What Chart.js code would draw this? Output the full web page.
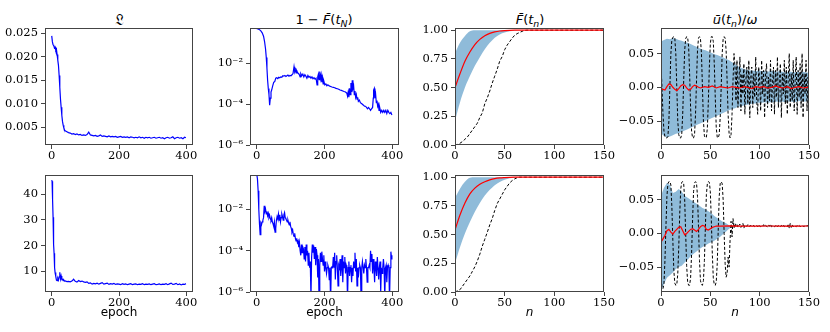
<!DOCTYPE html>
<html>
<head>
<meta charset="utf-8">
<script src="https://cdn.jsdelivr.net/npm/chart.js@4.4.1/dist/chart.umd.min.js"></script>
<style>
  body { margin: 0; background: #fff; width: 830px; height: 332px; position: relative; overflow: hidden; }
  .p { position: absolute; }
  .t { position: absolute; width: 160px; text-align: center; white-space: nowrap;
       font-family: "DejaVu Sans", sans-serif; font-size: 13px; line-height: 16px; color: #000; }
  .t sub { font-size: 72%; vertical-align: -0.3em; line-height: 0; }
</style>
</head>
<body>
<div class="t" style="left:39px;top:12px;font-size:15px">𝔏</div>
<div class="t" style="left:244px;top:12px">1 − <i>F̄</i>(<i>t<sub>N</sub></i>)</div>
<div class="t" style="left:450px;top:12px"><i>F̄</i>(<i>t<sub>n</sub></i>)</div>
<div class="t" style="left:655px;top:12px"><i>ū</i>(<i>t<sub>n</sub></i>)/<i>ω</i></div>

<script>
// ---- tick values and labels ----
const epochTicks = [0, 200, 400];
const epochLabels = ['0', '200', '400'];
const stepTicks = [0, 50, 100, 150];
const stepLabels = ['0', '50', '100', '150'];
const lossTopTicks = [0.005, 0.010, 0.015, 0.020, 0.025];
const lossTopLabels = ['0.005', '0.010', '0.015', '0.020', '0.025'];
const lossBotTicks = [10, 20, 30, 40];
const lossBotLabels = ['10', '20', '30', '40'];
const infTicks = [1e-6, 1e-4, 1e-2];
const infLabels = ['10⁻⁶', '10⁻⁴', '10⁻²'];
const fidTicks = [0, 0.25, 0.5, 0.75, 1.0];
const fidLabels = ['0.00', '0.25', '0.50', '0.75', '1.00'];
const ctrlTicks = [-0.05, 0, 0.05];
const ctrlLabels = ['−0.05', '0.00', '0.05'];

// ---- loss, top row [epoch, value] ----
const lossTop = [
  [0,0.0245],[2,0.0232],[4,0.0226],[6,0.0224],[8,0.0219],[10,0.0221],[12,0.0214],[14,0.0216],[16,0.0205],[18,0.0193],
  [20,0.0182],[22,0.0160],[24,0.0135],[26,0.0110],[28,0.0092],[30,0.0075],[32,0.0062],[34,0.0054],[36,0.0048],[38,0.0044],
  [40,0.0042],[45,0.0040],[50,0.0038],[55,0.0037],[60,0.0035],[65,0.0036],[70,0.0034],[75,0.0035],[80,0.0033],[85,0.0034],
  [90,0.0032],[95,0.0033],[100,0.0032],[105,0.0034],[110,0.0039],[115,0.0033],[120,0.0032],[125,0.0031],[130,0.0032],[135,0.0030],
  [140,0.0031],[145,0.0033],[150,0.0030],[155,0.0031],[160,0.0030],[165,0.0029],[170,0.0031],[175,0.0029],[180,0.0030],[185,0.0029],
  [190,0.0030],[195,0.0028],[200,0.0029],[205,0.0030],[210,0.0028],[215,0.0029],[220,0.0028],[225,0.0029],[230,0.0027],[235,0.0029],
  [240,0.0028],[245,0.0027],[250,0.0028],[255,0.0027],[260,0.0029],[265,0.0027],[270,0.0028],[275,0.0026],[280,0.0028],[285,0.0027],
  [290,0.0028],[295,0.0026],[300,0.0027],[305,0.0028],[310,0.0026],[315,0.0027],[320,0.0028],[325,0.0026],[330,0.0027],[335,0.0025],
  [340,0.0027],[345,0.0028],[350,0.0026],[355,0.0027],[360,0.0029],[365,0.0025],[370,0.0027],[375,0.0028],[380,0.0026],[385,0.0027],
  [390,0.0025],[395,0.0028],[399,0.0027]
];

// ---- loss, bottom row ----
const lossBot = [
  [0,45.5],[1,45.0],[2,43.5],[3,38.0],[4,31.0],[5,24.5],[6,20.5],[7,17.0],[8,14.0],[9,11.5],[10,9.5],
  [12,8.0],[14,6.6],[16,6.4],[18,7.3],[20,6.6],[22,7.8],[24,9.6],[26,7.0],[28,8.2],[30,6.8],[32,6.9],[34,6.4],[36,6.6],[38,6.2],[40,6.3],
  [45,6.0],[50,6.1],[55,5.9],[60,6.2],[65,6.9],[70,6.1],[75,5.8],[80,6.4],[85,6.0],[90,6.2],
  [95,5.9],[100,5.7],[105,5.9],[110,5.3],[115,5.5],[120,5.0],[125,5.3],[130,5.1],[135,5.4],[140,5.0],
  [145,5.3],[150,5.6],[155,5.0],[160,5.2],[165,5.4],[170,4.9],[175,5.2],[180,5.0],[185,5.3],[190,4.9],
  [195,5.1],[200,5.0],[205,4.8],[210,5.2],[215,4.9],[220,5.1],[225,4.8],[230,5.0],[235,5.2],[240,4.8],
  [245,5.0],[250,5.1],[255,4.8],[260,5.0],[265,4.9],[270,5.2],[275,4.8],[280,5.0],[285,4.9],[290,5.1],
  [295,4.8],[300,5.0],[305,5.2],[310,4.8],[315,4.9],[320,5.1],[325,4.8],[330,5.0],[335,4.9],[340,5.2],
  [345,4.8],[350,5.1],[355,5.4],[360,4.9],[365,5.0],[370,5.3],[375,4.8],[380,5.1],[385,4.7],[390,5.0],
  [395,4.9],[399,5.2]
];

// ---- infidelity 1 - F(t_N), top row ----
const infTop = [
  [0,0.52],[4,0.50],[8,0.46],[12,0.40],[16,0.32],[20,0.22],[23,0.12],[26,0.05],[28,0.02],[30,0.006],
  [32,0.0015],[34,0.0006],[36,0.0003],[38,0.00009],[40,0.0002],[42,0.0004],[44,0.0005],[47,0.0008],[50,0.0012],[53,0.0013],
  [56,0.0019],[59,0.0020],[62,0.0018],[65,0.0021],[68,0.0020],[71,0.0022],[74,0.0021],[77,0.0025],[80,0.0024],[83,0.0026],
  [86,0.0023],[89,0.0025],[92,0.0027],[95,0.0024],[98,0.0026],[101,0.0025],[104,0.0028],[107,0.0032],[110,0.0070],[112,0.0040],
  [114,0.0050],[116,0.0035],[118,0.0045],[120,0.0038],[122,0.0033],[125,0.0030],[128,0.0022],[130,0.0032],[133,0.0025],[136,0.0030],
  [139,0.0022],[142,0.0028],[145,0.0024],[148,0.0019],[151,0.0026],[154,0.0021],[157,0.0023],[160,0.0019],[163,0.0022],[166,0.0018],
  [169,0.0020],[172,0.0017],[175,0.0019],[178,0.0009],[180,0.0022],[182,0.0030],[184,0.0016],[186,0.0040],[188,0.0018],[190,0.0028],
  [192,0.0012],[194,0.0020],[196,0.0010],[198,0.0014],[201,0.0009],[204,0.0010],[207,0.0008],[210,0.0009],[214,0.0008],[218,0.00075],
  [222,0.0007],[226,0.00068],[230,0.00065],[234,0.0006],[238,0.00058],[242,0.00055],[246,0.0005],[250,0.00048],[254,0.00045],[258,0.00042],
  [262,0.0004],[266,0.00035],[268,0.00025],[270,0.0004],[272,0.00022],[274,0.0006],[276,0.0003],[278,0.0011],[280,0.0004],[282,0.0015],
  [284,0.0006],[286,0.0008],[288,0.0003],[290,0.00045],[292,0.00022],[294,0.0003],[296,0.00018],[298,0.00022],[300,0.00014],[303,0.00016],
  [306,0.00012],[309,0.00011],[312,0.0001],[315,0.00009],[318,0.00008],[321,0.00008],[324,0.00007],[327,0.00006],[330,0.00007],[333,0.00006],
  [336,0.00005],[339,0.00006],[342,0.00007],[344,0.0002],[345,0.0005],[347,0.0006],[349,0.0002],[351,0.0003],[353,0.00012],[355,0.00015],
  [357,0.00008],[359,0.0001],[361,0.00005],[363,0.00007],[366,0.00004],[369,0.00005],[372,0.00004],[375,0.00005],[378,0.00004],[381,0.00005],
  [384,0.000035],[387,0.00005],[390,0.00004],[393,0.000035],[396,0.00004],[399,0.00003]
];

// ---- infidelity, bottom row ----
const infBot = [
  [0,0.5],[2,0.3],[4,0.08],[6,0.01],[8,0.002],[10,0.0006],[12,0.0022],[14,0.0018],[16,0.0025],[18,0.003],
  [20,0.004],[22,0.015],[24,0.008],[26,0.010],[28,0.006],[30,0.008],[32,0.005],[34,0.0065],[36,0.004],[38,0.005],
  [40,0.0035],[42,0.003],[44,0.004],[46,0.0025],[48,0.002],[50,0.0015],[52,0.0025],[54,0.0008],[56,0.0012],[58,0.003],
  [60,0.0045],[62,0.0035],[64,0.006],[66,0.003],[68,0.0055],[70,0.0025],[72,0.004],[74,0.006],[76,0.0045],[78,0.003],
  [80,0.0055],[82,0.007],[84,0.004],[86,0.0035],[88,0.003],[90,0.0025],[92,0.003],[94,0.0022],[96,0.0018],[98,0.0025],
  [100,0.0015],[102,0.0012],[104,0.0008],[106,0.001],[108,0.0006],[110,0.0005],[112,0.0007],[114,0.0004],[116,0.0003],[118,0.0004],
  [120,0.00025],[122,0.0003],[124,0.00015],[126,0.00025],[128,0.0001],[130,0.00006],[132,0.0002],[134,0.00008],[136,0.00015],[138,0.00012],
  [140,0.00004],[142,0.00015],[144,0.00003],[146,0.0002],[148,0.00006],[150,0.0001],[152,0.00002],[154,0.00008],[156,0.000015],[158,0.00003],
  [160,0.0000005],[162,0.00005],[164,0.0002],[166,0.00008],[168,0.00018],[170,0.00004],[172,0.00015],[174,0.00002],[176,0.00012],[178,0.00006],
  [180,0.000005],[182,0.00004],[184,0.0000003],[186,0.00002],[188,0.00008],[190,0.00003],[192,0.00009],[194,0.00004],[196,0.00002],[198,0.00006],
  [200,0.00001],[202,0.00003],[204,0.000015],[206,0.000008],[208,0.000015],[210,0.00002],[212,0.000015],[214,0.000004],[216,0.000015],[218,0.0000003],
  [220,0.000015],[222,0.000016],[224,0.000015],[226,0.00005],[228,0.000015],[230,0.00008],[232,0.000004],[234,0.00003],[236,0.00006],[238,0.000015],
  [240,0.000002],[242,0.00002],[244,0.000015],[246,0.00004],[248,0.000006],[250,0.000015],[252,0.00006],[254,0.000003],[256,0.00003],[258,0.000015],
  [260,0.00005],[262,0.000008],[264,0.00002],[266,0.000015],[268,0.0000004],[270,0.000015],[272,0.00003],[274,0.000006],[276,0.000015],[278,0.00002],
  [280,0.000003],[282,0.000015],[284,0.000006],[286,0.00003],[288,0.000015],[290,0.00008],[292,0.00001],[294,0.00004],[296,0.000002],[298,0.000015],
  [300,0.000005],[302,0.000015],[304,0.00002],[306,0.000015],[308,0.0000004],[310,0.000015],[312,0.00003],[314,0.000015],[316,0.000008],[318,0.00002],
  [320,0.000015],[322,0.00004],[324,0.000015],[326,0.000003],[328,0.000015],[330,0.000015],[332,0.00002],[334,0.000015],[336,0.0001],[338,0.00003],
  [340,0.00007],[342,0.000008],[344,0.00004],[346,0.000015],[348,0.000003],[350,0.00003],[352,0.000015],[354,0.000006],[356,0.00005],[358,0.000015],
  [360,0.000004],[362,0.000015],[364,0.00003],[366,0.000001],[368,0.000015],[370,0.000008],[372,0.000015],[374,0.00004],[376,0.000015],[378,0.0000005],
  [380,0.000015],[382,0.00002],[384,0.000003],[386,0.000015],[388,0.00002],[390,0.000015],[392,0.0000004],[394,0.000015],[396,0.00009],[398,0.00004],
  [399,0.00006]
];

// ---- fidelity F(t_n): mean, band, reference ----
const fidN = [0,5,10,15,20,25,30,35,40,45,50,55,60,65,70,80,90,100,110,120,130,140,150];
const fidTopMean = [0.50,0.62,0.73,0.81,0.875,0.92,0.952,0.972,0.985,0.993,0.997,0.999,1,1,1,1,1,1,1,1,1,1,1];
const fidTopLow  = [0.21,0.37,0.50,0.60,0.69,0.765,0.835,0.89,0.935,0.963,0.98,0.99,0.996,0.999,1,1,1,1,1,1,1,1,1];
const fidTopHigh = [0.80,0.89,0.95,0.99,1,1,1,1,1,1,1,1,1,1,1,1,1,1,1,1,1,1,1];
const fidBotMean = [0.54,0.67,0.775,0.855,0.905,0.938,0.961,0.977,0.988,0.994,0.997,0.999,1,1,1,1,1,1,1,1,1,1,1];
const fidBotLow  = [0.25,0.39,0.51,0.61,0.70,0.775,0.84,0.89,0.93,0.958,0.977,0.99,0.996,0.999,1,1,1,1,1,1,1,1,1];
const fidBotHigh = [0.82,0.90,0.96,0.995,1,1,1,1,1,1,1,1,1,1,1,1,1,1,1,1,1,1,1];
const fidRefN = [0,2.5,5,7.5,10,12.5,15,17.5,20,22.5,25,27.5,30,32.5,35,37.5,40,42.5,45,47.5,50,52.5,55,57.5,60,62.5,65,67.5,70,72.5,75,150];
const fidTopRef = [0,0.005,0.015,0.03,0.05,0.07,0.10,0.13,0.16,0.19,0.24,0.28,0.36,0.41,0.47,0.54,0.60,0.66,0.73,0.77,0.83,0.87,0.90,0.93,0.955,0.97,0.98,0.99,0.998,1,1,1];
const fidBotRef = [0,0.01,0.02,0.05,0.08,0.11,0.14,0.18,0.22,0.27,0.33,0.40,0.46,0.52,0.585,0.64,0.71,0.77,0.81,0.85,0.89,0.92,0.95,0.97,0.985,0.995,1,1,1,1,1,1];

// ---- control u(t_n)/omega ----
const stepN = Array.from({ length: 151 }, (_, i) => i);
const bandN = Array.from({ length: 51 }, (_, i) => 3 * i);
const ctrlTopHigh = [
  0.068,0.070,0.072,0.071,0.073,0.072,0.070,0.069,0.067,0.066,
  0.064,0.062,0.060,0.058,0.056,0.055,0.053,0.051,0.049,0.048,
  0.046,0.044,0.042,0.040,0.037,0.034,0.031,0.029,0.027,0.026,
  0.025,0.025,0.024,0.025,0.024,0.024,0.023,0.024,0.024,0.023,
  0.024,0.023,0.022,0.023,0.023,0.022,0.023,0.022,0.023,0.022,
  0.022
];
const ctrlTopLow = [
  -0.068,-0.072,-0.074,-0.073,-0.071,-0.069,-0.068,-0.066,-0.064,-0.062,
  -0.060,-0.058,-0.056,-0.054,-0.052,-0.050,-0.048,-0.046,-0.044,-0.042,
  -0.040,-0.038,-0.036,-0.034,-0.032,-0.031,-0.029,-0.028,-0.027,-0.026,
  -0.025,-0.024,-0.024,-0.023,-0.023,-0.022,-0.023,-0.022,-0.022,-0.021,
  -0.022,-0.021,-0.022,-0.021,-0.021,-0.022,-0.021,-0.020,-0.021,-0.021,
  -0.020
];
const ctrlTopMeanN = [0,2,4,6,8,10,12,14,16,18,20,22,24,26,28,30,32,34,36,38,40,
  44,48,52,56,60,64,68,72,76,80,84,88,92,96,100,104,108,112,116,120,124,128,132,136,140,144,148,150];
const ctrlTopMean = [-0.002,-0.003,-0.004,0.001,0.005,0.004,0.000,-0.003,-0.005,-0.002,0.002,0.004,0.003,-0.001,-0.004,-0.003,0.001,0.003,0.002,0.000,-0.001,
  0.001,0.000,0.002,-0.001,0.001,0.000,-0.001,0.001,0.000,-0.001,0.001,0.000,-0.002,0.001,0.000,0.001,-0.001,0.000,0.002,0.000,-0.001,0.001,-0.002,0.000,0.001,-0.001,0.000,0.001];
const ctrlTopRef = [
  0.035,0.000,-0.040,-0.065,-0.073,-0.075,-0.075,-0.073,-0.050,0.000,
  0.050,0.070,0.074,0.075,0.073,0.050,0.000,-0.050,-0.070,-0.075,
  -0.075,-0.070,-0.040,0.010,0.055,0.072,0.075,0.074,0.060,0.020,
  -0.030,-0.065,-0.075,-0.075,-0.070,-0.040,0.010,0.055,0.073,0.075,
  0.072,0.050,0.000,-0.050,-0.072,-0.075,-0.074,-0.060,-0.020,0.030,
  0.065,0.075,0.075,0.068,0.035,-0.015,-0.060,-0.074,-0.075,-0.070,
  -0.045,0.000,0.050,0.072,0.075,0.073,0.055,0.010,-0.040,-0.068,
  -0.075,-0.070,-0.040,0.010,0.050,0.030,-0.020,0.040,-0.030,0.010,
  0.045,-0.035,0.020,-0.010,0.035,-0.040,0.010,0.030,-0.025,0.040,
  -0.045,0.015,0.030,-0.030,0.020,-0.015,0.045,-0.020,-0.040,0.030,
  0.010,-0.035,0.040,-0.010,0.025,-0.045,0.020,0.035,-0.030,0.015,
  -0.020,0.040,-0.035,0.005,0.030,-0.040,0.025,-0.015,0.045,-0.030,
  0.010,0.035,-0.045,0.020,-0.010,0.040,-0.025,0.030,-0.040,0.015,
  0.050,-0.030,0.020,-0.020,0.040,-0.035,0.010,0.045,-0.040,0.025,
  -0.015,0.035,-0.030,0.050,-0.045,0.020,-0.010,0.040,-0.035,0.015,
  -0.030
];
const ctrlBotHigh = [
  0.056,0.068,0.075,0.072,0.060,0.062,0.066,0.062,0.056,0.053,
  0.050,0.047,0.044,0.041,0.038,0.036,0.033,0.030,0.026,0.023,
  0.020,0.017,0.015,0.012,0.0112,0.0115,0.0113,0.0114,0.0112,0.0114,
  0.0113,0.0114,0.0112,0.0115,0.0113,0.0114,0.0112,0.0113,0.0114,0.0112,
  0.0114,0.0113,0.0115,0.0112,0.0114,0.0113,0.0114,0.0112,0.0113,0.0114,
  0.0113
];
const ctrlBotLow = [
  -0.086,-0.075,-0.066,-0.062,-0.058,-0.053,-0.050,-0.048,-0.043,-0.039,
  -0.034,-0.030,-0.027,-0.023,-0.020,-0.018,-0.015,-0.013,-0.011,-0.008,
  -0.005,-0.001,0.003,0.007,0.0095,0.0102,0.0104,0.0103,0.0105,0.0103,
  0.0104,0.0103,0.0105,0.0104,0.0103,0.0105,0.0104,0.0103,0.0104,0.0105,
  0.0103,0.0104,0.0105,0.0103,0.0104,0.0105,0.0103,0.0104,0.0105,0.0104,
  0.0103
];
const ctrlBotMeanN = [0,2,4,6,8,10,12,14,16,18,20,22,24,26,28,30,32,34,36,38,40,42,44,46,48,50,52,54,56,
  60,70,80,90,100,110,120,130,140,150];
const ctrlBotMean = [-0.013,-0.008,-0.003,0.004,0.006,0.002,-0.001,0.003,0.006,0.009,0.010,0.004,-0.002,0.000,0.003,0.006,0.007,0.005,0.003,0.006,0.010,0.012,0.011,0.006,0.005,0.007,0.009,0.010,0.011,
  0.011,0.0112,0.011,0.0108,0.011,0.0111,0.011,0.0109,0.011,0.0111];
const ctrlBotRef = [
  -0.060,-0.080,-0.082,-0.075,-0.040,0.010,0.055,0.074,0.077,0.077,
  0.072,0.040,-0.010,-0.055,-0.074,-0.077,-0.076,-0.060,-0.020,0.030,
  0.066,0.076,0.077,0.074,0.050,0.000,-0.048,-0.072,-0.077,-0.077,
  -0.066,-0.030,0.020,0.062,0.075,0.077,0.075,0.055,0.010,-0.040,
  -0.070,-0.076,-0.077,-0.070,-0.040,0.010,0.058,0.074,0.077,0.076,
  0.062,0.020,-0.030,-0.066,-0.076,-0.077,-0.072,-0.045,0.005,0.055,
  0.074,0.077,0.074,0.050,0.000,-0.045,-0.065,-0.060,-0.035,-0.050,
  -0.010,0.018,-0.005,0.022,0.008,0.015,0.010,0.013,0.009,0.012,
  0.014,0.009,0.011,0.015,0.008,0.012,0.010,0.011,0.013,0.010,
  0.011,0.012,0.010,0.011,0.012,0.010,0.011,0.012,0.010,0.013,
  0.011,0.010,0.012,0.011,0.013,0.010,0.012,0.011,0.009,0.012,
  0.011,0.014,0.010,0.011,0.012,0.010,0.011,0.013,0.010,0.012,
  0.011,0.010,0.012,0.011,0.013,0.010,0.011,0.012,0.010,0.014,
  0.008,0.015,0.009,0.013,0.010,0.012,0.011,0.010,0.012,0.011,
  0.012,0.010,0.011,0.012,0.011,0.010,0.012,0.011,0.012,0.011,
  0.012
];

// ---- helpers ----
const tickFont = { family: 'DejaVu Serif', size: 11.5 };
const axisColor = '#444';
const bandColor = 'rgba(31, 119, 180, 0.5)';
const Y_W = 44, PAD_T = 8, PAD_R = 14;

const pairs = arr => arr.map(([x, y]) => ({ x, y }));
const zip = (xs, ys) => xs.map((x, i) => ({ x, y: ys[i] }));

const frame = {
  id: 'frame',
  afterDraw(chart) {
    const { ctx, chartArea: a } = chart;
    ctx.save();
    ctx.strokeStyle = axisColor;
    ctx.lineWidth = 1;
    ctx.strokeRect(Math.round(a.left) + 0.5, Math.round(a.top) + 0.5,
      Math.round(a.right - a.left) - 1, Math.round(a.bottom - a.top) - 1);
    ctx.restore();
  }
};

function line(data, color, width, dash, smooth) {
  return { data, borderColor: color, borderWidth: width, borderDash: dash || [],
    pointRadius: 0, fill: false, tension: 0, cubicInterpolationMode: smooth ? 'monotone' : 'default' };
}
function band(high, low, smooth) {
  const mode = smooth ? 'monotone' : 'default';
  return [
    { data: high, borderColor: 'rgba(0,0,0,0)', borderWidth: 0, backgroundColor: bandColor,
      pointRadius: 0, fill: '+1', cubicInterpolationMode: mode },
    { data: low, borderColor: 'rgba(0,0,0,0)', borderWidth: 0, pointRadius: 0, fill: false, cubicInterpolationMode: mode }
  ];
}

function panel(rect, xs, ys, datasets) {
  const [l, t, r, b] = rect;
  const xh = xs.title ? 28 : 19;
  const div = document.createElement('div');
  div.className = 'p';
  div.style.left = (l - Y_W) + 'px';
  div.style.top = (t - PAD_T) + 'px';
  const cv = document.createElement('canvas');
  cv.width = r - l + Y_W + PAD_R;
  cv.height = b - t + PAD_T + xh;
  div.appendChild(cv);
  document.body.appendChild(div);

  new Chart(cv, {
    type: 'line',
    data: { datasets },
    options: {
      responsive: false,
      animation: false,
      events: [],
      layout: { padding: { top: PAD_T, right: PAD_R, bottom: 0, left: 0 } },
      plugins: { legend: { display: false }, tooltip: { enabled: false } },
      scales: {
        x: {
          type: 'linear', min: xs.min, max: xs.max,
          afterBuildTicks: s => { s.ticks = xs.ticks.map(v => ({ value: v })); },
          afterFit: s => { s.height = xh; },
          ticks: { font: tickFont, color: '#000', padding: 0, maxRotation: 0, autoSkip: false,
            callback: (v, i) => xs.labels[i] },
          grid: { drawOnChartArea: false, tickLength: 4, color: axisColor },
          border: { display: false },
          title: xs.title
            ? { display: true, text: xs.title, color: '#000', padding: 0,
                font: { family: 'DejaVu Sans', size: 12, style: xs.italic ? 'italic' : 'normal' } }
            : { display: false }
        },
        y: {
          type: ys.type || 'linear', min: ys.min, max: ys.max,
          afterBuildTicks: s => { s.ticks = ys.ticks.map(v => ({ value: v })); },
          afterFit: s => { s.width = Y_W; },
          ticks: { font: tickFont, color: '#000', padding: 3, autoSkip: false,
            callback: (v, i) => ys.labels[i] },
          grid: { drawOnChartArea: false, tickLength: 4, color: axisColor },
          border: { display: false }
        }
      }
    },
    plugins: [frame]
  });
}

const epochAxis = { min: -20, max: 420, ticks: epochTicks, labels: epochLabels };
const stepAxis = { min: 0, max: 150, ticks: stepTicks, labels: stepLabels };

// top row
panel([45, 26, 193, 145], epochAxis,
  { min: 0.00115, max: 0.0262, ticks: lossTopTicks, labels: lossTopLabels },
  [line(pairs(lossTop), '#0000ff', 1.2)]);
panel([250, 26, 399, 145], epochAxis,
  { type: 'logarithmic', min: 1e-6, max: 0.56, ticks: infTicks, labels: infLabels },
  [line(pairs(infTop), '#0000ff', 1.2)]);
panel([455, 26, 604, 145], stepAxis,
  { min: 0, max: 1.02, ticks: fidTicks, labels: fidLabels },
  [line(zip(fidN, fidTopMean), '#ff0000', 1.2, null, true),
   line(zip(fidRefN, fidTopRef), '#000', 1, [3, 2]),
   ...band(zip(fidN, fidTopHigh), zip(fidN, fidTopLow), true)]);
panel([661, 26, 809, 145], stepAxis,
  { min: -0.0855, max: 0.088, ticks: ctrlTicks, labels: ctrlLabels },
  [line(zip(ctrlTopMeanN, ctrlTopMean), '#ff0000', 1.2),
   line(zip(stepN, ctrlTopRef), '#000', 1, [3, 2]),
   ...band(zip(bandN, ctrlTopHigh), zip(bandN, ctrlTopLow))]);

// bottom row
panel([45, 173, 193, 292], { ...epochAxis, title: 'epoch' },
  { min: 1.95, max: 47.5, ticks: lossBotTicks, labels: lossBotLabels },
  [line(pairs(lossBot), '#0000ff', 1.2)]);
panel([250, 173, 399, 292], { ...epochAxis, title: 'epoch' },
  { type: 'logarithmic', min: 1e-6, max: 0.47, ticks: infTicks, labels: infLabels },
  [line(pairs(infBot), '#0000ff', 1.2)]);
panel([455, 173, 604, 292], { ...stepAxis, title: 'n', italic: true },
  { min: 0, max: 1.02, ticks: fidTicks, labels: fidLabels },
  [line(zip(fidN, fidBotMean), '#ff0000', 1.2, null, true),
   line(zip(fidRefN, fidBotRef), '#000', 1, [3, 2]),
   ...band(zip(fidN, fidBotHigh), zip(fidN, fidBotLow), true)]);
panel([661, 173, 809, 292], { ...stepAxis, title: 'n', italic: true },
  { min: -0.087, max: 0.087, ticks: ctrlTicks, labels: ctrlLabels },
  [line(zip(ctrlBotMeanN, ctrlBotMean), '#ff0000', 1.2),
   line(zip(stepN, ctrlBotRef), '#000', 1, [3, 2]),
   ...band(zip(bandN, ctrlBotHigh), zip(bandN, ctrlBotLow))]);
</script>
</body>
</html>
